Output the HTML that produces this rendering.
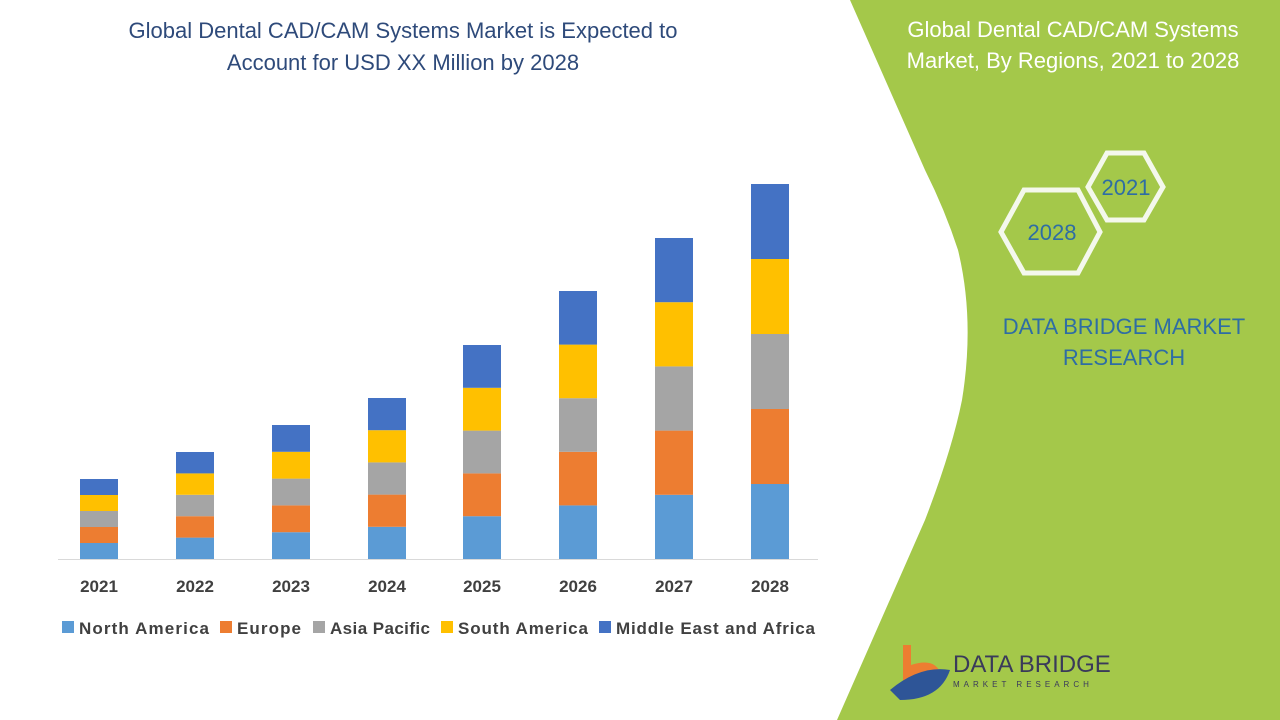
<!DOCTYPE html>
<html><head><meta charset="utf-8"><style>
body{margin:0;width:1280px;height:720px;overflow:hidden;background:#fff;font-family:"Liberation Sans",sans-serif;}
</style></head><body>
<svg width="1280" height="720" xmlns="http://www.w3.org/2000/svg" style="position:absolute;left:0;top:0">
<path d="M850,0 L1280,0 L1280,720 L837,720 L925,520 Q952,450 962,400 Q975,320 958,250 Q945,210 925,170 Z" fill="#a4c84a"/>
<text x="403" y="38" font-size="22" fill="#2e4a7a" text-anchor="middle">Global Dental CAD/CAM Systems Market is Expected to</text>
<text x="403" y="70" font-size="22" fill="#2e4a7a" text-anchor="middle">Account for USD XX Million by 2028</text>
<text x="1073" y="37" font-size="22" fill="#fff" text-anchor="middle">Global Dental CAD/CAM Systems</text>
<text x="1073" y="68" font-size="22" fill="#fff" text-anchor="middle">Market, By Regions, 2021 to 2028</text>
<polygon points="1088,187 1107,153 1144,153 1163,187 1144,220 1107,220" fill="none" stroke="#f4f8ec" stroke-width="5"/>
<polygon points="1001,232 1024,190 1078,190 1100,232 1078,273 1024,273" fill="none" stroke="#f4f8ec" stroke-width="5"/>
<text x="1126" y="195" font-size="22" fill="#2e6da4" text-anchor="middle">2021</text>
<text x="1052" y="240" font-size="22" fill="#2e6da4" text-anchor="middle">2028</text>
<text x="1124" y="334" font-size="22" fill="#2e6da4" text-anchor="middle">DATA BRIDGE MARKET</text>
<text x="1124" y="365" font-size="22" fill="#2e6da4" text-anchor="middle">RESEARCH</text>
<line x1="58" y1="559.5" x2="818" y2="559.5" stroke="#d9d9d9" stroke-width="1"/>
<g id="bars"></g>
<g font-size="17" font-weight="bold" fill="#404040" text-anchor="middle">
<text x="99" y="592">2021</text><text x="195" y="592">2022</text><text x="291" y="592">2023</text><text x="387" y="592">2024</text><text x="482" y="592">2025</text><text x="578" y="592">2026</text><text x="674" y="592">2027</text><text x="770" y="592">2028</text>
</g>
<g font-size="17" font-weight="bold" fill="#404040">
<rect x="62" y="621" width="12" height="12" fill="#5b9bd5"/><text x="79" y="634" textLength="130">North America</text>
<rect x="220" y="621" width="12" height="12" fill="#ed7d31"/><text x="237" y="634" textLength="64">Europe</text>
<rect x="313" y="621" width="12" height="12" fill="#a5a5a5"/><text x="330" y="634" textLength="100">Asia Pacific</text>
<rect x="441" y="621" width="12" height="12" fill="#ffc000"/><text x="458" y="634" textLength="130">South America</text>
<rect x="599" y="621" width="12" height="12" fill="#4472c4"/><text x="616" y="634" textLength="199">Middle East and Africa</text>
</g>
<g>
<path d="M903,645 h8 v20 q25,-8 30,10 q-5,20 -30,18 h-8 z" fill="#ed7d31"/>
<path d="M890,690 q30,-25 60,-20 q-10,30 -50,30 z" fill="#2e5597"/>
<text x="953" y="672" font-size="24" fill="#3a3a5a">DATA BRIDGE</text>
<text x="953" y="687" font-size="8" fill="#3a3a5a" letter-spacing="4">MARKET RESEARCH</text>
</g>
</svg>
<script>
var g=document.getElementById('bars');
var xs=[80,176,272,368,463,559,655,751],tops=[479,452,425,398,345,291,238,184];
var cols=['#5b9bd5','#ed7d31','#a5a5a5','#ffc000','#4472c4'];
var s='';
for(var i=0;i<8;i++){var h=(559-tops[i])/5;for(var j=0;j<5;j++){var y=559-h*(j+1);s+='<rect x="'+xs[i]+'" y="'+y+'" width="38" height="'+h+'" fill="'+cols[j]+'"/>';}}
g.innerHTML=s;
</script>
</body></html>
